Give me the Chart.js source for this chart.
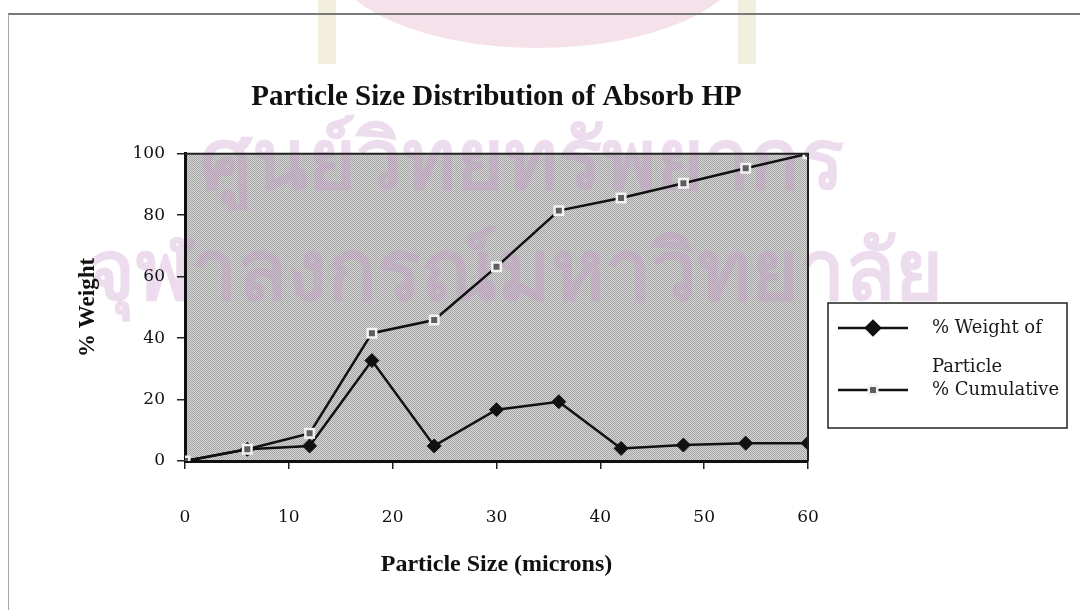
<!DOCTYPE html>
<html><head><meta charset="utf-8">
<script src="https://cdn.jsdelivr.net/npm/chart.js@4"></script>
<style>
html,body{margin:0;padding:0;background:#fff;}
#wrap{position:relative;width:1080px;height:610px;overflow:hidden;}
canvas{position:absolute;left:0;top:0;}
#frame{position:absolute;left:8px;top:13px;width:1080px;height:610px;border-top:2px solid #7a7a7a;border-left:1px solid #a8a8a8;pointer-events:none;}
</style></head><body>
<div id="wrap"><canvas id="c" width="1080" height="610"></canvas><div id="frame"></div></div>
<script>
const particleSizes = [0, 6, 12, 18, 24, 30, 36, 42, 48, 54, 60];
const weightPct = [0, 3.8, 4.9, 32.7, 4.9, 16.7, 19.3, 4.1, 5.2, 5.8, 5.8];
const cumulativePct = [0, 3.8, 9.0, 41.6, 45.9, 63.2, 81.5, 85.6, 90.4, 95.3, 100];
const xTicks = [0, 10, 20, 30, 40, 50, 60];
const yTicks = [0, 20, 40, 60, 80, 100];
const seriesLabels = ['% Weight of Particle', '% Cumulative'];
const titleText = 'Particle Size Distribution of Absorb HP';
const xTitle = 'Particle Size (microns)';
const yTitle = '% Weight';
const watermarkLines = ['ศูนย์วิทยทรัพยากร', 'จุฬาลงกรณ์มหาวิทยาลัย'];

const SERIF = "'Liberation Serif', 'DejaVu Serif', serif";
const WIDE_SERIF = "'DejaVu Serif', 'Liberation Serif', serif";

function makePattern(ctx) {
  const p = document.createElement('canvas');
  p.width = 2; p.height = 2;
  const g = p.getContext('2d');
  g.fillStyle = '#d6d6d6'; g.fillRect(0, 0, 2, 2);
  g.fillStyle = '#a4a4a4'; g.fillRect(0, 0, 1, 1); g.fillRect(1, 1, 1, 1);
  return ctx.createPattern(p, 'repeat');
}

const plotBg = {
  id: 'plotBg',
  beforeDraw(chart) {
    const {ctx, chartArea: a} = chart;
    ctx.save();
    ctx.fillStyle = 'rgba(238,205,218,0.6)';
    ctx.beginPath();
    ctx.ellipse(538, -45, 208, 93, 0, 0, Math.PI * 2);
    ctx.fill();
    ctx.fillStyle = 'rgba(242,238,220,0.95)';
    ctx.fillRect(318, 0, 18, 64);
    ctx.fillRect(738, 0, 18, 64);
    ctx.fillStyle = makePattern(ctx);
    ctx.fillRect(a.left, a.top, a.right - a.left, a.bottom - a.top);
    ctx.fillStyle = 'rgba(195,145,200,0.32)';
    ctx.textBaseline = 'middle';
    ctx.textAlign = 'center';
    ctx.font = "bold 82px 'Noto Sans', 'DejaVu Sans', sans-serif";
    ctx.fillText(watermarkLines[0], 522, 165);
    ctx.fillText(watermarkLines[1], 515, 276);
    ctx.restore();
  },
  afterDatasetsDraw(chart) {
    const {ctx, chartArea: a} = chart;
    ctx.save();
    ctx.strokeStyle = '#222';
    ctx.lineWidth = 2;
    ctx.beginPath();
    ctx.moveTo(a.left, a.top); ctx.lineTo(a.right, a.top); ctx.lineTo(a.right, a.bottom);
    ctx.stroke();
    ctx.restore();
  }
};

const legendBox = {
  id: 'legendBox',
  afterDraw(chart) {
    const {ctx} = chart;
    const bx = 828, by = 303, bw = 239, bh = 125;
    ctx.save();
    ctx.fillStyle = '#fff';
    ctx.fillRect(bx, by, bw, bh);
    ctx.strokeStyle = '#222';
    ctx.lineWidth = 1.5;
    ctx.strokeRect(bx, by, bw, bh);
    ctx.font = '18px ' + WIDE_SERIF;
    ctx.textBaseline = 'middle';
    ctx.textAlign = 'left';
    const rows = [328, 390];
    chart.data.datasets.forEach((ds, i) => {
      const y = rows[i];
      ctx.strokeStyle = '#111';
      ctx.lineWidth = ds.borderWidth;
      ctx.beginPath(); ctx.moveTo(838, y); ctx.lineTo(908, y); ctx.stroke();
      ctx.fillStyle = ds.pointBackgroundColor;
      ctx.strokeStyle = ds.pointBorderColor;
      Chart.helpers.drawPoint(ctx, {pointStyle: ds.pointStyle, radius: ds.pointRadius, rotation: 0, borderWidth: ds.pointBorderWidth}, 873, y);
      ctx.fillStyle = '#1a1a1a';
      const words = ds.label.split(' ');
      const lines = []; let cur = '';
      words.forEach(w => {
        const t = cur ? cur + ' ' + w : w;
        if (ctx.measureText(t).width > 132 && cur) { lines.push(cur); cur = w; } else cur = t;
      });
      lines.push(cur);
      lines.forEach((ln, k) => ctx.fillText(ln, 932, y + k * 39));
    });
    ctx.restore();
  }
};

new Chart(document.getElementById('c'), {
  type: 'line',
  data: {
    datasets: [
      {
        label: seriesLabels[0],
        data: particleSizes.map((x, i) => ({x, y: weightPct[i]})),
        borderColor: '#111', borderWidth: 2.5,
        pointStyle: 'rectRot', pointRadius: 7,
        pointBackgroundColor: '#111', pointBorderColor: '#111', pointBorderWidth: 1,
        tension: 0, order: 2
      },
      {
        label: seriesLabels[1],
        data: particleSizes.map((x, i) => ({x, y: cumulativePct[i]})),
        borderColor: '#111', borderWidth: 2.5,
        pointStyle: 'rect', pointRadius: 6,
        pointBackgroundColor: '#5e5e5e', pointBorderColor: '#f2f2f2', pointBorderWidth: 2.5,
        tension: 0, order: 1
      }
    ]
  },
  options: {
    responsive: false,
    animation: false,
    devicePixelRatio: 1,
    layout: {padding: {left: 0, right: 272, top: 0, bottom: 0}},
    plugins: {
      legend: {display: false},
      tooltip: {enabled: false},
      title: {
        display: true, text: titleText, fullSize: false,
        color: '#111', font: {family: SERIF, size: 29, weight: 'bold'},
        padding: {top: 80, bottom: 39}
      }
    },
    scales: {
      x: {
        type: 'linear', min: 0, max: 60,
        afterBuildTicks: s => { s.ticks = xTicks.map(v => ({value: v})); },
        afterFit: s => { s.height = 149; },
        ticks: {color: '#111', font: {family: WIDE_SERIF, size: 17}, padding: 38, maxRotation: 0},
        grid: {drawOnChartArea: false, tickLength: 8, color: '#222', lineWidth: 1.5},
        border: {color: '#111', width: 3},
        title: {display: true, text: xTitle, color: '#111', font: {family: SERIF, size: 24, weight: 'bold'}, padding: {top: 0, bottom: 31}}
      },
      y: {
        min: 0, max: 100,
        afterBuildTicks: s => { s.ticks = yTicks.map(v => ({value: v})); },
        afterFit: s => { s.width = 185; },
        ticks: {color: '#111', font: {family: WIDE_SERIF, size: 17}, padding: 12},
        grid: {drawOnChartArea: false, tickLength: 8, color: '#222', lineWidth: 1.5},
        border: {color: '#111', width: 3},
        title: {display: true, text: yTitle, color: '#111', font: {family: SERIF, size: 23, weight: 'bold'}, padding: {top: 74, bottom: 0}}
      }
    }
  },
  plugins: [plotBg, legendBox]
});
</script>
</body></html>
